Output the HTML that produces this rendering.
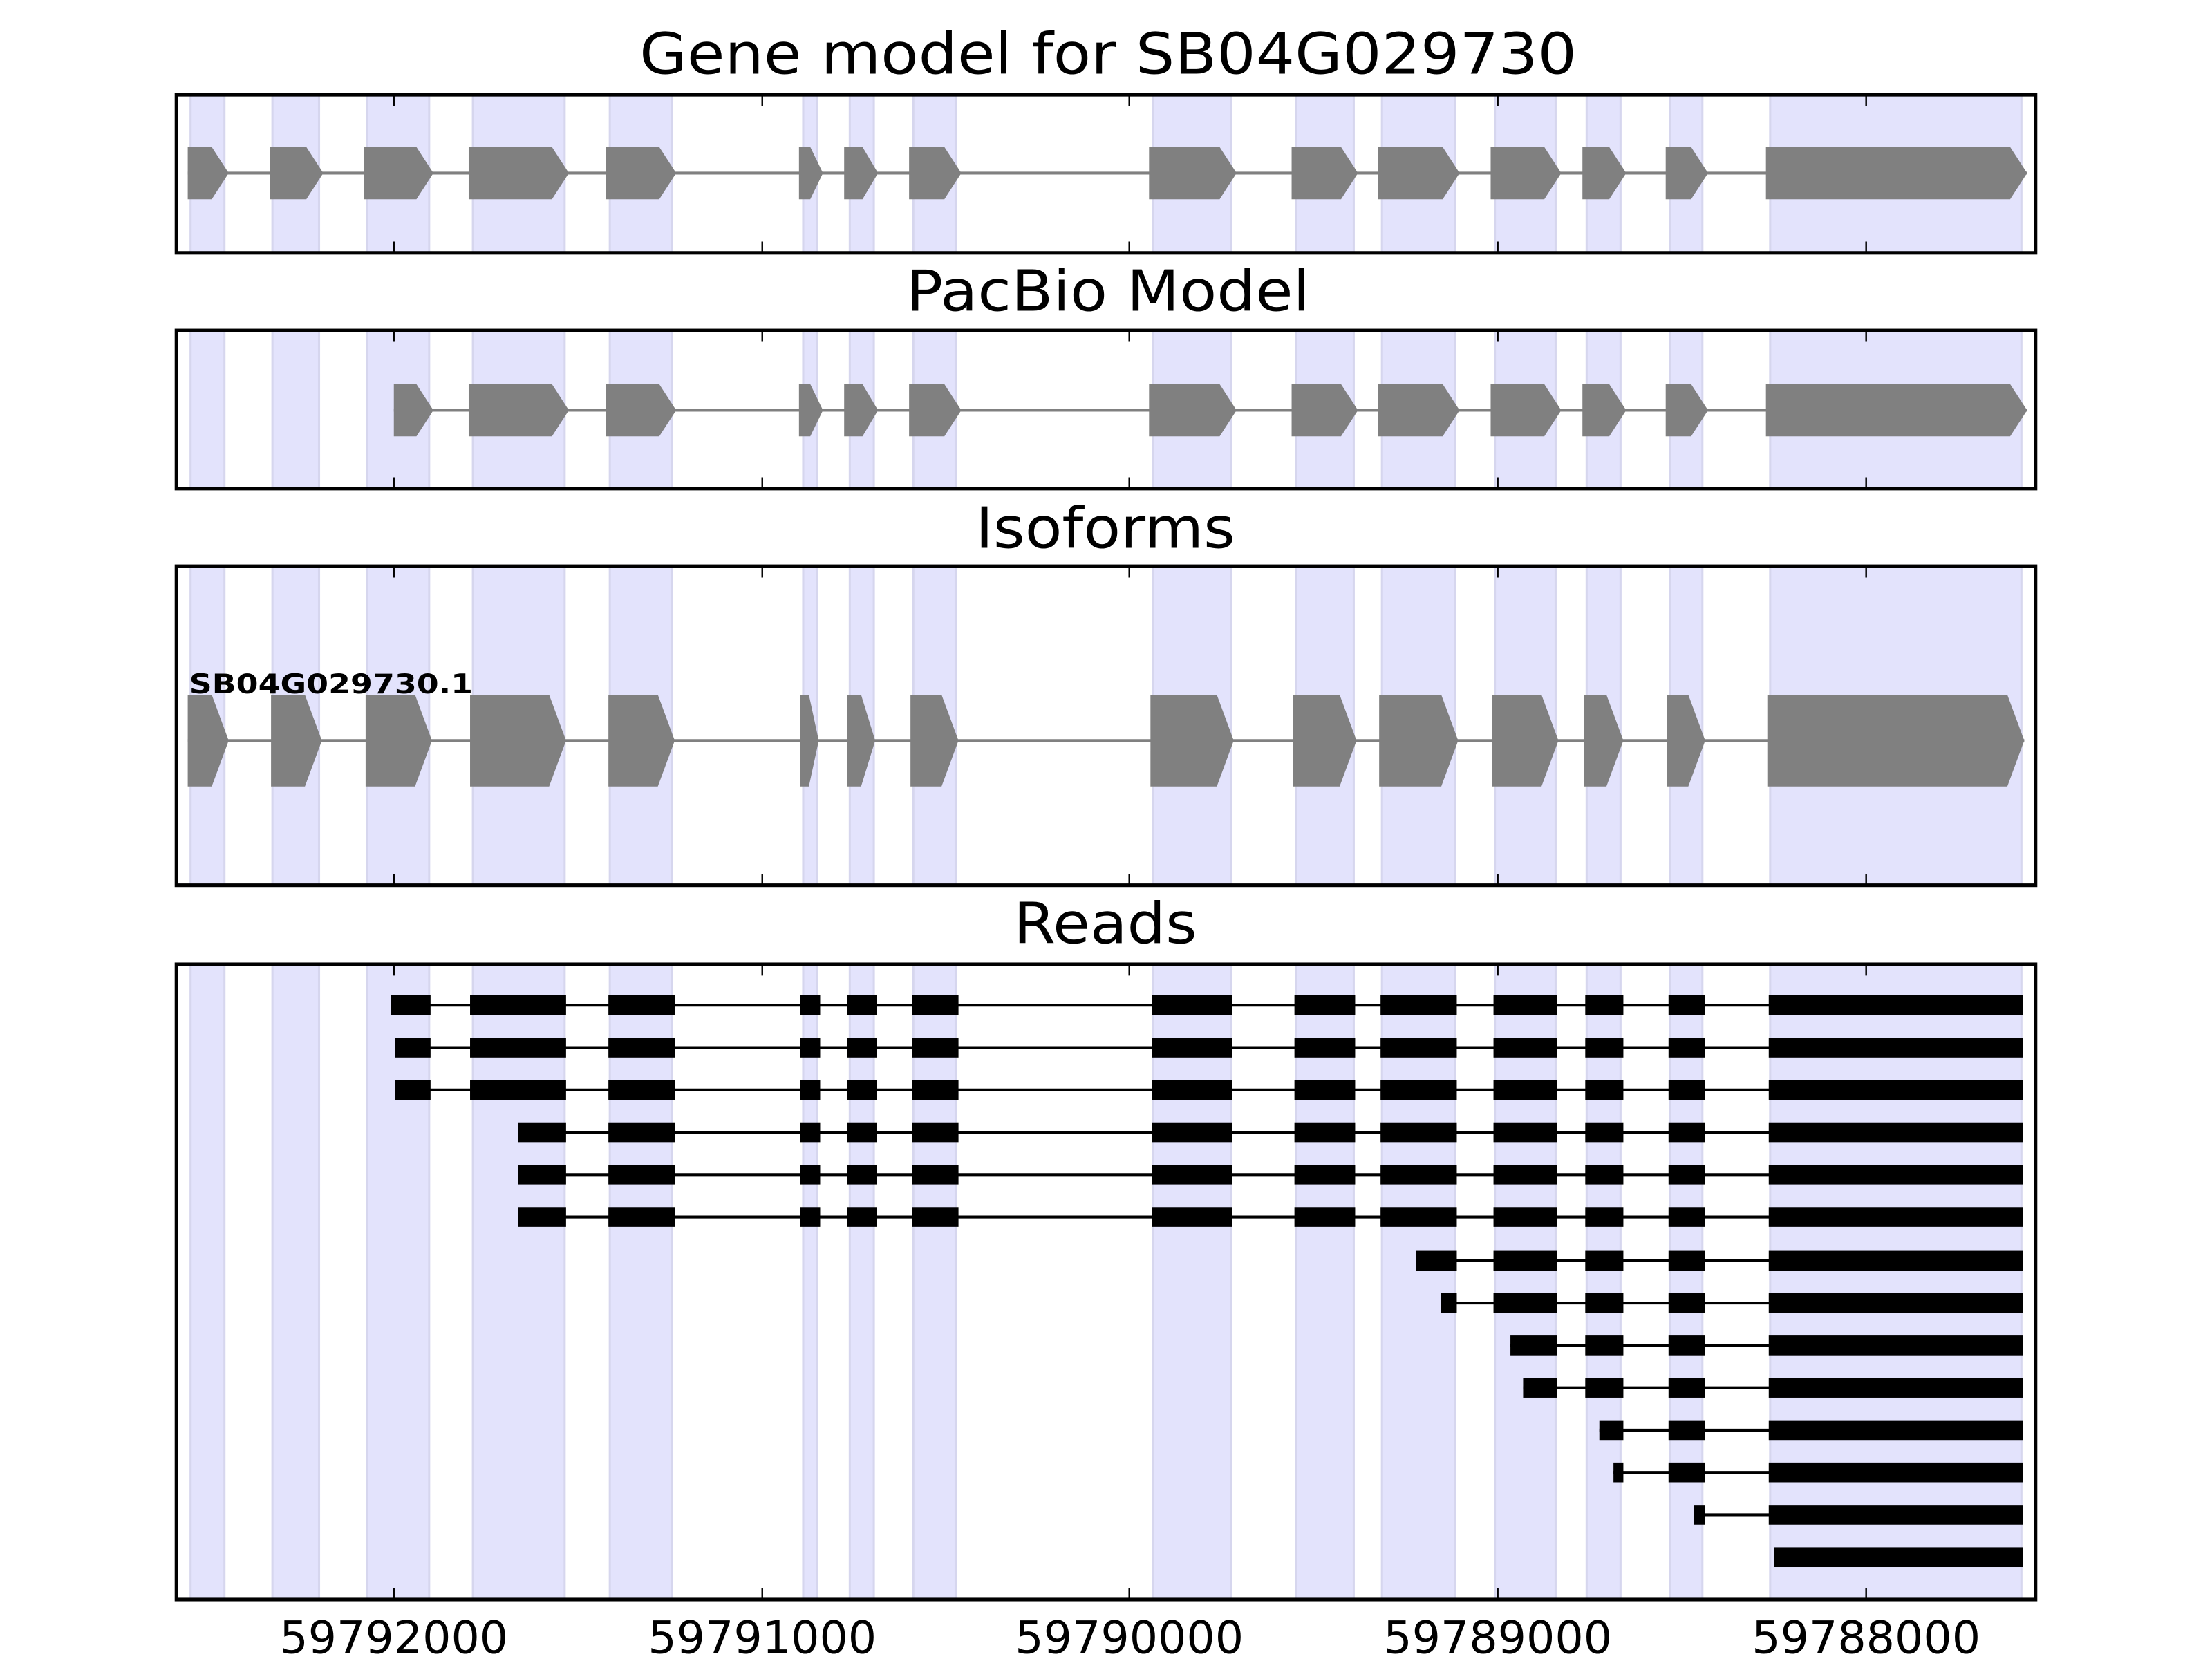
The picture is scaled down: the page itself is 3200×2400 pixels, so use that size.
<!DOCTYPE html>
<html><head><meta charset="utf-8"><style>html,body{margin:0;padding:0;background:#fff}svg{display:block}</style></head>
<body>
<svg xmlns="http://www.w3.org/2000/svg" width="3200" height="2400" viewBox="0 0 1567 1175">
<g font-family="DejaVu Sans, Liberation Sans, sans-serif" fill="#000">
<text x="785" y="52" font-size="40" text-anchor="middle" textLength="664" lengthAdjust="spacingAndGlyphs">Gene model for SB04G029730</text>
<text x="785" y="220" font-size="40" text-anchor="middle" textLength="286" lengthAdjust="spacingAndGlyphs">PacBio Model</text>
<text x="783" y="388" font-size="40" text-anchor="middle" textLength="184" lengthAdjust="spacingAndGlyphs">Isoforms</text>
<text x="783" y="668" font-size="40" text-anchor="middle" textLength="130" lengthAdjust="spacingAndGlyphs">Reads</text>
<g font-size="32" text-anchor="middle">
<text x="279" y="1171" textLength="162" lengthAdjust="spacingAndGlyphs">59792000</text>
<text x="540" y="1171" textLength="162" lengthAdjust="spacingAndGlyphs">59791000</text>
<text x="800" y="1171" textLength="162" lengthAdjust="spacingAndGlyphs">59790000</text>
<text x="1061" y="1171" textLength="162" lengthAdjust="spacingAndGlyphs">59789000</text>
<text x="1322" y="1171" textLength="162" lengthAdjust="spacingAndGlyphs">59788000</text>
</g>
</g>

<g fill="#e3e3fc" stroke="#d6d6ee" stroke-width="1.5">
<rect x="135" y="67" width="24" height="112"/><rect x="193" y="67" width="33" height="112"/><rect x="260" y="67" width="44" height="112"/><rect x="335" y="67" width="65" height="112"/><rect x="432" y="67" width="44" height="112"/><rect x="569" y="67" width="10" height="112"/><rect x="602" y="67" width="17" height="112"/><rect x="647" y="67" width="30" height="112"/><rect x="817" y="67" width="55" height="112"/><rect x="918" y="67" width="41" height="112"/><rect x="979" y="67" width="52" height="112"/><rect x="1059" y="67" width="43" height="112"/><rect x="1124" y="67" width="24" height="112"/><rect x="1183" y="67" width="23" height="112"/><rect x="1254" y="67" width="178" height="112"/>
<rect x="135" y="234" width="24" height="112"/><rect x="193" y="234" width="33" height="112"/><rect x="260" y="234" width="44" height="112"/><rect x="335" y="234" width="65" height="112"/><rect x="432" y="234" width="44" height="112"/><rect x="569" y="234" width="10" height="112"/><rect x="602" y="234" width="17" height="112"/><rect x="647" y="234" width="30" height="112"/><rect x="817" y="234" width="55" height="112"/><rect x="918" y="234" width="41" height="112"/><rect x="979" y="234" width="52" height="112"/><rect x="1059" y="234" width="43" height="112"/><rect x="1124" y="234" width="24" height="112"/><rect x="1183" y="234" width="23" height="112"/><rect x="1254" y="234" width="178" height="112"/>
<rect x="135" y="401" width="24" height="226"/><rect x="193" y="401" width="33" height="226"/><rect x="260" y="401" width="44" height="226"/><rect x="335" y="401" width="65" height="226"/><rect x="432" y="401" width="44" height="226"/><rect x="569" y="401" width="10" height="226"/><rect x="602" y="401" width="17" height="226"/><rect x="647" y="401" width="30" height="226"/><rect x="817" y="401" width="55" height="226"/><rect x="918" y="401" width="41" height="226"/><rect x="979" y="401" width="52" height="226"/><rect x="1059" y="401" width="43" height="226"/><rect x="1124" y="401" width="24" height="226"/><rect x="1183" y="401" width="23" height="226"/><rect x="1254" y="401" width="178" height="226"/>
<rect x="135" y="683" width="24" height="450"/><rect x="193" y="683" width="33" height="450"/><rect x="260" y="683" width="44" height="450"/><rect x="335" y="683" width="65" height="450"/><rect x="432" y="683" width="44" height="450"/><rect x="569" y="683" width="10" height="450"/><rect x="602" y="683" width="17" height="450"/><rect x="647" y="683" width="30" height="450"/><rect x="817" y="683" width="55" height="450"/><rect x="918" y="683" width="41" height="450"/><rect x="979" y="683" width="52" height="450"/><rect x="1059" y="683" width="43" height="450"/><rect x="1124" y="683" width="24" height="450"/><rect x="1183" y="683" width="23" height="450"/><rect x="1254" y="683" width="178" height="450"/>
</g>

<line x1="133" y1="122.5" x2="1436" y2="122.5" stroke="#808080" stroke-width="2"/>
<g fill="#808080">
<polygon points="133,104 150,104 162,122.5 150,141 133,141"/>
<polygon points="191,104 217,104 229,122.5 217,141 191,141"/>
<polygon points="258,104 295,104 307,122.5 295,141 258,141"/>
<polygon points="332,104 391,104 403,122.5 391,141 332,141"/>
<polygon points="429,104 467,104 479,122.5 467,141 429,141"/>
<polygon points="566,104 574,104 583,122.5 574,141 566,141"/>
<polygon points="598,104 611,104 622,122.5 611,141 598,141"/>
<polygon points="644,104 669,104 681,122.5 669,141 644,141"/>
<polygon points="814,104 864,104 876,122.5 864,141 814,141"/>
<polygon points="915,104 950,104 962,122.5 950,141 915,141"/>
<polygon points="976,104 1022,104 1034,122.5 1022,141 976,141"/>
<polygon points="1056,104 1094,104 1106,122.5 1094,141 1056,141"/>
<polygon points="1121,104 1140,104 1152,122.5 1140,141 1121,141"/>
<polygon points="1180,104 1198,104 1210,122.5 1198,141 1180,141"/>
<polygon points="1251,104 1424,104 1436,122.5 1424,141 1251,141"/>
</g>

<line x1="279" y1="290.5" x2="1436" y2="290.5" stroke="#808080" stroke-width="2"/>
<g fill="#808080">
<polygon points="279,272 295,272 307,290.5 295,309 279,309"/>
<polygon points="332,272 391,272 403,290.5 391,309 332,309"/>
<polygon points="429,272 467,272 479,290.5 467,309 429,309"/>
<polygon points="566,272 574,272 583,290.5 574,309 566,309"/>
<polygon points="598,272 611,272 622,290.5 611,309 598,309"/>
<polygon points="644,272 669,272 681,290.5 669,309 644,309"/>
<polygon points="814,272 864,272 876,290.5 864,309 814,309"/>
<polygon points="915,272 950,272 962,290.5 950,309 915,309"/>
<polygon points="976,272 1022,272 1034,290.5 1022,309 976,309"/>
<polygon points="1056,272 1094,272 1106,290.5 1094,309 1056,309"/>
<polygon points="1121,272 1140,272 1152,290.5 1140,309 1121,309"/>
<polygon points="1180,272 1198,272 1210,290.5 1198,309 1180,309"/>
<polygon points="1251,272 1424,272 1436,290.5 1424,309 1251,309"/>
</g>

<line x1="133" y1="524.5" x2="1434" y2="524.5" stroke="#808080" stroke-width="2"/>
<g fill="#808080">
<polygon points="133,492 150,492 162,524.5 150,557 133,557"/>
<polygon points="192,492 216,492 228,524.5 216,557 192,557"/>
<polygon points="259,492 294,492 306,524.5 294,557 259,557"/>
<polygon points="333,492 389,492 401,524.5 389,557 333,557"/>
<polygon points="431,492 466,492 478,524.5 466,557 431,557"/>
<polygon points="567,492 573,492 580,524.5 573,557 567,557"/>
<polygon points="600,492 610,492 620,524.5 610,557 600,557"/>
<polygon points="645,492 667,492 679,524.5 667,557 645,557"/>
<polygon points="815,492 862,492 874,524.5 862,557 815,557"/>
<polygon points="916,492 949,492 961,524.5 949,557 916,557"/>
<polygon points="977,492 1021,492 1033,524.5 1021,557 977,557"/>
<polygon points="1057,492 1092,492 1104,524.5 1092,557 1057,557"/>
<polygon points="1122,492 1138,492 1150,524.5 1138,557 1122,557"/>
<polygon points="1181,492 1196,492 1208,524.5 1196,557 1181,557"/>
<polygon points="1252,492 1422,492 1434,524.5 1422,557 1252,557"/>
</g>
<text x="134" y="491" font-family="DejaVu Sans, Liberation Sans, sans-serif" font-weight="bold" font-size="19" textLength="201" lengthAdjust="spacingAndGlyphs">SB04G029730.1</text>

<g stroke="#000" stroke-width="2">
<line x1="277" y1="712" x2="1433" y2="712"/><line x1="280" y1="742" x2="1433" y2="742"/><line x1="280" y1="772" x2="1433" y2="772"/>
<line x1="367" y1="802" x2="1433" y2="802"/><line x1="367" y1="832" x2="1433" y2="832"/><line x1="367" y1="862" x2="1433" y2="862"/>
<line x1="1003" y1="893" x2="1433" y2="893"/><line x1="1021" y1="923" x2="1433" y2="923"/><line x1="1070" y1="953" x2="1433" y2="953"/>
<line x1="1079" y1="983" x2="1433" y2="983"/><line x1="1133" y1="1013" x2="1433" y2="1013"/><line x1="1143" y1="1043" x2="1433" y2="1043"/>
<line x1="1200" y1="1073" x2="1433" y2="1073"/>
</g>
<g fill="#000">
<g>
<rect x="277" y="705" width="28" height="14"/><rect x="333" y="705" width="68" height="14"/><rect x="431" y="705" width="47" height="14"/><rect x="567" y="705" width="14" height="14"/><rect x="600" y="705" width="21" height="14"/><rect x="646" y="705" width="33" height="14"/><rect x="816" y="705" width="57" height="14"/><rect x="917" y="705" width="43" height="14"/><rect x="978" y="705" width="54" height="14"/><rect x="1058" y="705" width="45" height="14"/><rect x="1123" y="705" width="27" height="14"/><rect x="1182" y="705" width="26" height="14"/><rect x="1253" y="705" width="180" height="14"/>
</g>
<g transform="translate(0,30)">
<rect x="280" y="705" width="25" height="14"/><rect x="333" y="705" width="68" height="14"/><rect x="431" y="705" width="47" height="14"/><rect x="567" y="705" width="14" height="14"/><rect x="600" y="705" width="21" height="14"/><rect x="646" y="705" width="33" height="14"/><rect x="816" y="705" width="57" height="14"/><rect x="917" y="705" width="43" height="14"/><rect x="978" y="705" width="54" height="14"/><rect x="1058" y="705" width="45" height="14"/><rect x="1123" y="705" width="27" height="14"/><rect x="1182" y="705" width="26" height="14"/><rect x="1253" y="705" width="180" height="14"/>
</g>
<g transform="translate(0,60)">
<rect x="280" y="705" width="25" height="14"/><rect x="333" y="705" width="68" height="14"/><rect x="431" y="705" width="47" height="14"/><rect x="567" y="705" width="14" height="14"/><rect x="600" y="705" width="21" height="14"/><rect x="646" y="705" width="33" height="14"/><rect x="816" y="705" width="57" height="14"/><rect x="917" y="705" width="43" height="14"/><rect x="978" y="705" width="54" height="14"/><rect x="1058" y="705" width="45" height="14"/><rect x="1123" y="705" width="27" height="14"/><rect x="1182" y="705" width="26" height="14"/><rect x="1253" y="705" width="180" height="14"/>
</g>
<g transform="translate(0,90)">
<rect x="367" y="705" width="34" height="14"/><rect x="431" y="705" width="47" height="14"/><rect x="567" y="705" width="14" height="14"/><rect x="600" y="705" width="21" height="14"/><rect x="646" y="705" width="33" height="14"/><rect x="816" y="705" width="57" height="14"/><rect x="917" y="705" width="43" height="14"/><rect x="978" y="705" width="54" height="14"/><rect x="1058" y="705" width="45" height="14"/><rect x="1123" y="705" width="27" height="14"/><rect x="1182" y="705" width="26" height="14"/><rect x="1253" y="705" width="180" height="14"/>
</g>
<g transform="translate(0,120)">
<rect x="367" y="705" width="34" height="14"/><rect x="431" y="705" width="47" height="14"/><rect x="567" y="705" width="14" height="14"/><rect x="600" y="705" width="21" height="14"/><rect x="646" y="705" width="33" height="14"/><rect x="816" y="705" width="57" height="14"/><rect x="917" y="705" width="43" height="14"/><rect x="978" y="705" width="54" height="14"/><rect x="1058" y="705" width="45" height="14"/><rect x="1123" y="705" width="27" height="14"/><rect x="1182" y="705" width="26" height="14"/><rect x="1253" y="705" width="180" height="14"/>
</g>
<g transform="translate(0,150)">
<rect x="367" y="705" width="34" height="14"/><rect x="431" y="705" width="47" height="14"/><rect x="567" y="705" width="14" height="14"/><rect x="600" y="705" width="21" height="14"/><rect x="646" y="705" width="33" height="14"/><rect x="816" y="705" width="57" height="14"/><rect x="917" y="705" width="43" height="14"/><rect x="978" y="705" width="54" height="14"/><rect x="1058" y="705" width="45" height="14"/><rect x="1123" y="705" width="27" height="14"/><rect x="1182" y="705" width="26" height="14"/><rect x="1253" y="705" width="180" height="14"/>
</g>
<g transform="translate(0,181)">
<rect x="1003" y="705" width="29" height="14"/><rect x="1058" y="705" width="45" height="14"/><rect x="1123" y="705" width="27" height="14"/><rect x="1182" y="705" width="26" height="14"/><rect x="1253" y="705" width="180" height="14"/>
</g>
<g transform="translate(0,211)">
<rect x="1021" y="705" width="11" height="14"/><rect x="1058" y="705" width="45" height="14"/><rect x="1123" y="705" width="27" height="14"/><rect x="1182" y="705" width="26" height="14"/><rect x="1253" y="705" width="180" height="14"/>
</g>
<g transform="translate(0,241)">
<rect x="1070" y="705" width="33" height="14"/><rect x="1123" y="705" width="27" height="14"/><rect x="1182" y="705" width="26" height="14"/><rect x="1253" y="705" width="180" height="14"/>
</g>
<g transform="translate(0,271)">
<rect x="1079" y="705" width="24" height="14"/><rect x="1123" y="705" width="27" height="14"/><rect x="1182" y="705" width="26" height="14"/><rect x="1253" y="705" width="180" height="14"/>
</g>
<g transform="translate(0,301)">
<rect x="1133" y="705" width="17" height="14"/><rect x="1182" y="705" width="26" height="14"/><rect x="1253" y="705" width="180" height="14"/>
</g>
<g transform="translate(0,331)">
<rect x="1143" y="705" width="7" height="14"/><rect x="1182" y="705" width="26" height="14"/><rect x="1253" y="705" width="180" height="14"/>
</g>
<g transform="translate(0,361)">
<rect x="1200" y="705" width="8" height="14"/><rect x="1253" y="705" width="180" height="14"/>
</g>
<g transform="translate(0,391)">
<rect x="1257" y="705" width="176" height="14"/>
</g>
</g>

<g fill="none" stroke="#000" stroke-width="2.5">
<rect x="125" y="67" width="1317" height="112"/>
<rect x="125" y="234" width="1317" height="112"/>
<rect x="125" y="401" width="1317" height="226"/>
<rect x="125" y="683" width="1317" height="450"/>
</g>
<g stroke="#000" stroke-width="1.2">
<path d="M279 67v8M540 67v8M800 67v8M1061 67v8M1322 67v8M279 179v-8M540 179v-8M800 179v-8M1061 179v-8M1322 179v-8"/>
<path d="M279 234v8M540 234v8M800 234v8M1061 234v8M1322 234v8M279 346v-8M540 346v-8M800 346v-8M1061 346v-8M1322 346v-8"/>
<path d="M279 401v8M540 401v8M800 401v8M1061 401v8M1322 401v8M279 627v-8M540 627v-8M800 627v-8M1061 627v-8M1322 627v-8"/>
<path d="M279 683v8M540 683v8M800 683v8M1061 683v8M1322 683v8M279 1133v-8M540 1133v-8M800 1133v-8M1061 1133v-8M1322 1133v-8"/>
</g>
</svg>
</body></html>
